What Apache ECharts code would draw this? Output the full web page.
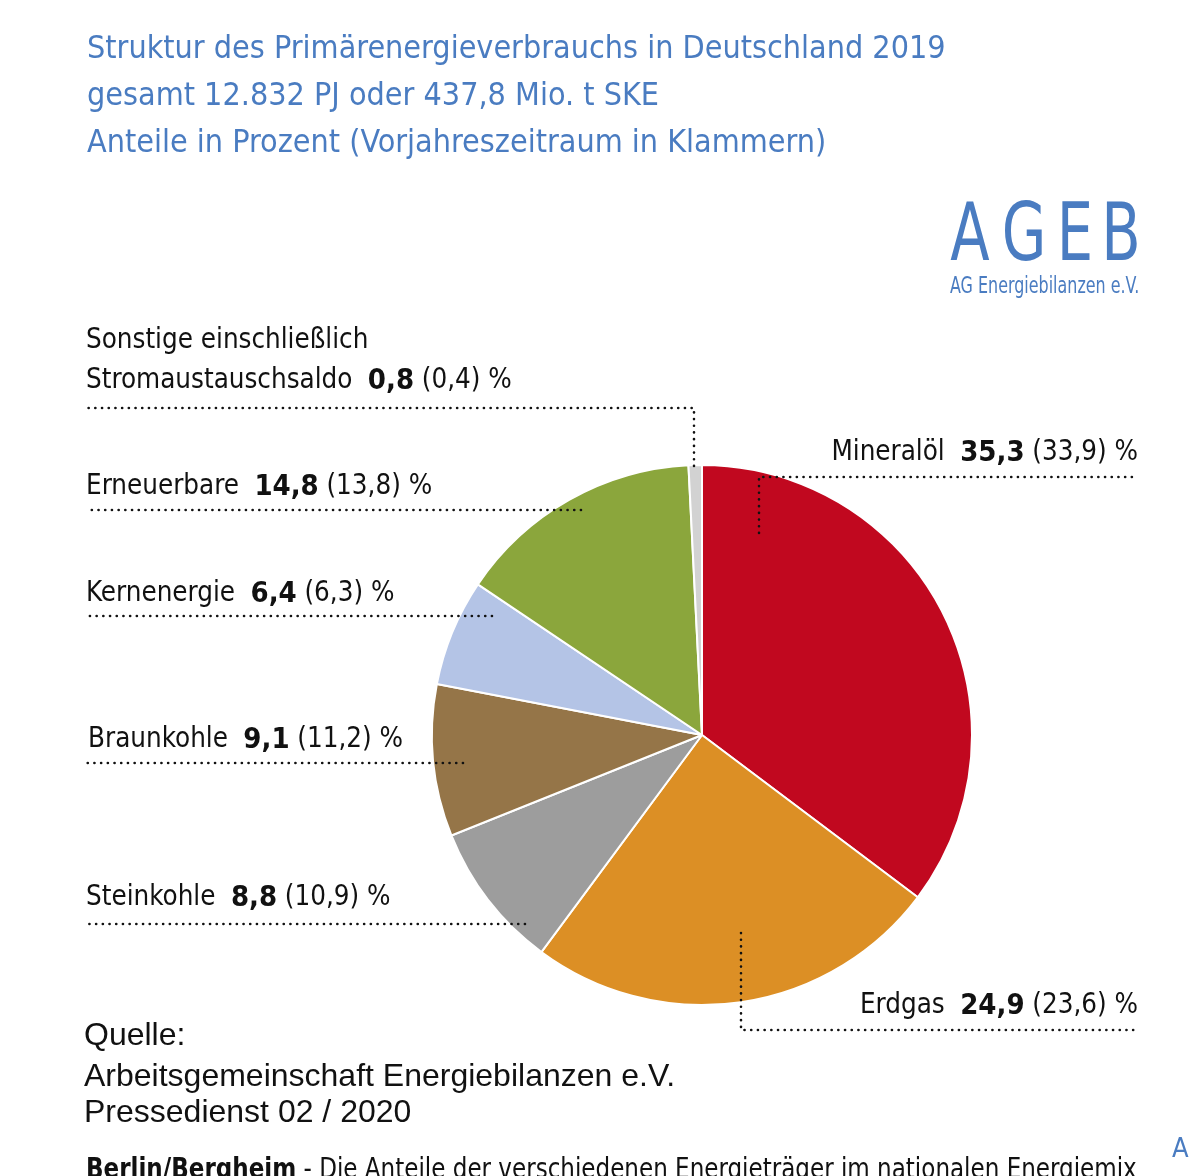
<!DOCTYPE html>
<html>
<head>
<meta charset="utf-8">
<script src="https://cdn.jsdelivr.net/npm/echarts@6/dist/echarts.min.js"></script>
<style>
html,body{margin:0;padding:0;background:#fff;}
#chart{width:1200px;height:1176px;}
</style>
</head>
<body>
<div id="chart"></div>
<script>
// ---- data ----
const categories = ['Mineralöl', 'Erdgas', 'Steinkohle', 'Braunkohle', 'Kernenergie', 'Erneuerbare', 'Sonstige einschließlich\nStromaustauschsaldo'];
const values2019 = [35.3, 24.9, 8.8, 9.1, 6.4, 14.8, 0.8];
const valuesPrevYear = [33.9, 23.6, 10.9, 11.2, 6.3, 13.8, 0.4];
const colors = ['#c1081f', '#dc8f25', '#9d9d9d', '#957548', '#b4c4e6', '#8ba63c', '#d2d2d2'];

const titleLines = [
  'Struktur des Primärenergieverbrauchs in Deutschland 2019',
  'gesamt 12.832 PJ oder 437,8 Mio. t SKE',
  'Anteile in Prozent (Vorjahreszeitraum in Klammern)'
];
const logoLetters = ['A', 'G', 'E', 'B'];
const logoSubtitle = 'AG Energiebilanzen e.V.';
const sourceLines = ['Quelle:', 'Arbeitsgemeinschaft Energiebilanzen e.V.', 'Pressedienst 02 / 2020'];
const footerBold = 'Berlin/Bergheim';
const footerText = ' - Die Anteile der verschiedenen Energieträger im nationalen Energiemix';

// ---- label layout (annotation positions) ----
const labelLayouts = [
  {x: 1138, y: 453, align: 'right', line: [[759, 533], [759, 477], [1138, 477]]},
  {x: 1138, y: 1006, align: 'right', line: [[741, 933], [741, 1030], [1138, 1030]]},
  {x: 86, y: 898, align: 'left', line: [[525, 924], [86, 924]]},
  {x: 88, y: 740, align: 'left', line: [[463, 763], [86, 763]]},
  {x: 86, y: 594, align: 'left', line: [[492, 616], [86, 616]]},
  {x: 86, y: 487, align: 'left', line: [[581, 510], [86, 510]]},
  {x: 86, y: 361, align: 'left', line: [[694, 466], [694, 408], [86, 408]]}
];
const logoX = [970, 1024, 1075, 1121];
const sourceY = [1036, 1077, 1113];

const FONT = "'DejaVu Sans Condensed', 'Liberation Sans Narrow', sans-serif";
const ARIAL = "'Liberation Sans', Arial, sans-serif";
const BLUE = '#4a7cc1';
const fmt = v => v.toFixed(1).replace('.', ',');

const graphics = [];
logoLetters.forEach((l, i) => graphics.push({
  type: 'text', x: logoX[i], y: 239, scaleX: 0.8, z: 100,
  style: {text: l, fontFamily: FONT, fontSize: 80, fill: BLUE, textAlign: 'center', textVerticalAlign: 'middle'}
}));
graphics.push({type: 'text', x: 950, y: 287, scaleX: 0.77, z: 100,
  style: {text: logoSubtitle, fontFamily: FONT, fontSize: 23, fill: BLUE, textAlign: 'left', textVerticalAlign: 'middle'}});
sourceLines.forEach((t, i) => graphics.push({
  type: 'text', x: 84, y: sourceY[i], z: 100,
  style: {text: t, fontFamily: ARIAL, fontSize: 32, fill: '#111', textAlign: 'left', textVerticalAlign: 'middle'}
}));
graphics.push({type: 'text', x: 86, y: 1171, scaleX: 0.915, z: 100,
  style: {text: '{b|' + footerBold + '}' + footerText, fontFamily: FONT, fontSize: 28, fill: '#111',
    textAlign: 'left', textVerticalAlign: 'middle',
    rich: {b: {fontFamily: FONT, fontSize: 28, fontWeight: 'bold', fill: '#111'}}}});
graphics.push({type: 'text', x: 1172, y: 1150, z: 100,
  style: {text: 'A', fontFamily: FONT, fontSize: 27, fill: BLUE, textAlign: 'left', textVerticalAlign: 'middle'}});
labelLayouts.forEach(L => graphics.push({
  type: 'polyline', z: 100,
  shape: {points: L.line},
  style: {stroke: '#111', lineWidth: 2.6, lineDash: [0.1, 6.6], lineCap: 'round', fill: null}
}));

const chart = echarts.init(document.getElementById('chart'));
chart.setOption({
  backgroundColor: '#fff',
  animation: false,
  title: {
    text: titleLines.join('\n'),
    left: 82, top: 21,
    textStyle: {color: BLUE, fontFamily: FONT, fontSize: 32, fontWeight: 'normal', lineHeight: 47}
  },
  graphic: graphics,
  series: [{
    type: 'pie',
    center: [702, 735],
    radius: 270,
    startAngle: 90,
    clockwise: true,
    itemStyle: {borderColor: '#fff', borderWidth: 2},
    data: categories.map((c, i) => ({name: c, value: values2019[i], prev: valuesPrevYear[i], itemStyle: {color: colors[i]}})),
    label: {
      show: true,
      position: 'outside',
      fontFamily: FONT,
      fontSize: 27,
      color: '#111',
      width: 640,
      overflow: 'none',
      formatter: p => {
        const lines = p.name.split('\n');
        const last = lines.pop();
        const head = lines.map(l => '{n|' + l + '}').join('\n');
        return (head ? head + '\n' : '') + '{n|' + last + '}  {v|' + fmt(p.value) + '} {n|(' + fmt(p.data.prev) + ') %}';
      },
      rich: {
        n: {fontFamily: FONT, fontSize: 27.5, color: '#111', lineHeight: 40},
        v: {fontFamily: FONT, fontSize: 29, fontWeight: 'bold', color: '#111', lineHeight: 40}
      }
    },
    labelLine: {show: false},
    labelLayout: params => {
      const L = labelLayouts[params.dataIndex];
      return {x: L.x, y: L.y, align: L.align, verticalAlign: 'middle'};
    }
  }]
});
</script>
</body>
</html>
